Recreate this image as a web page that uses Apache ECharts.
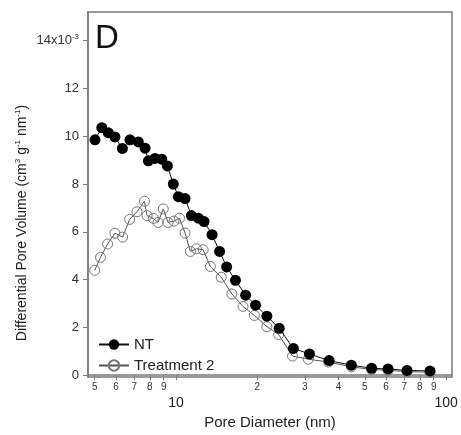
<!DOCTYPE html>
<html><head><meta charset="utf-8">
<script src="https://cdn.jsdelivr.net/npm/echarts@6/dist/echarts.min.js"></script>
<style>html,body{margin:0;padding:0;background:#fff}#c{width:461px;height:435px}</style>
</head><body><div id="c"></div>
<script>
// Pore diameters (nm) and differential pore volume (x10^-3 cm3 g-1 nm-1)
const ntDiameter = [5.01,5.31,5.61,5.94,6.33,6.75,7.25,7.68,7.90,8.36,8.85,9.29,9.77,10.2,10.8,11.4,12.1,12.7,13.6,14.5,15.4,16.6,18.1,19.7,21.7,24.1,27.2,31.2,36.9,44.6,53.0,61.0,71.7,87.2];
const ntVolume   = [9.85,10.36,10.15,9.97,9.49,9.85,9.76,9.5,8.97,9.07,9.04,8.76,8.0,7.47,7.39,6.68,6.57,6.43,5.88,5.18,4.53,3.97,3.35,2.93,2.47,1.96,1.12,0.89,0.61,0.42,0.29,0.26,0.2,0.18];
const t2Diameter = [5.0,5.25,5.58,5.94,6.34,6.73,7.17,7.64,7.81,8.24,8.58,8.97,9.34,9.83,10.3,10.8,11.3,11.9,12.6,13.4,14.7,16.1,17.7,19.5,21.7,24.0,27.0,30.9,36.7,44.6,53.0,61.0,71.7,87.2];
const t2Volume   = [4.39,4.93,5.49,5.94,5.78,6.52,6.84,7.28,6.68,6.56,6.39,6.96,6.39,6.45,6.57,5.95,5.18,5.29,5.25,4.55,4.1,3.4,2.88,2.5,2.03,1.7,0.8,0.67,0.55,0.35,0.24,0.2,0.15,0.12];
const xTickValues = [5,6,7,8,9,10,20,30,40,50,60,70,80,90,100];
const yTickValues = [0,2,4,6,8,10,12,14];
const seriesNames = ['NT','Treatment 2'];

const lg = v => Math.log10(v);
const pairs = (xs, ys) => xs.map((x, i) => [lg(x), ys[i]]);
const FONT = 'Liberation Sans, Arial, sans-serif';
const AX = '#7a7a7a';

const chart = echarts.init(document.getElementById('c'), null, {renderer: 'canvas'});
chart.setOption({
  animation: false,
  backgroundColor: '#fff',
  textStyle: {fontFamily: FONT},
  title: {text: 'D', left: 90, top: 17, textStyle: {fontSize: 33, fontWeight: 'normal', color: '#111', fontFamily: FONT}},
  grid: {left: 88, right: 9, top: 12, bottom: 56, show: true, borderColor: AX, borderWidth: 1.5, backgroundColor: 'transparent'},
  legend: {
    orient: 'vertical', left: 93, top: 332, itemWidth: 30, itemHeight: 13, itemGap: 6,
    textStyle: {fontSize: 15, color: '#222', fontFamily: FONT},
    data: seriesNames
  },
  xAxis: {
    type: 'value', min: 0.674, max: 2.022,
    name: 'Pore Diameter (nm)', nameLocation: 'middle', nameGap: 34,
    nameTextStyle: {fontSize: 15, color: '#222', fontFamily: FONT},
    axisLine: {show: true, lineStyle: {color: AX, width: 1.5}},
    axisTick: {show: true, length: 5, customValues: xTickValues.map(lg), lineStyle: {color: AX, width: 1}},
    axisLabel: {
      customValues: xTickValues.map(lg), margin: 5, fontSize: 10, color: '#333', fontFamily: FONT,
      formatter: v => {
        const n = Math.round(Math.pow(10, v));
        if (n === 10 || n === 100) return '{b|' + n + '}';
        return String(n >= 10 ? n / 10 : n);
      },
      rich: {b: {fontSize: 14, color: '#222', padding: [14, 0, 0, 0], fontFamily: FONT}}
    },
    splitLine: {show: false}
  },
  yAxis: {
    type: 'value', min: -0.08, max: 15.2,
    axisLine: {show: true, lineStyle: {color: AX, width: 1.5}},
    axisTick: {show: true, length: 5, customValues: yTickValues, lineStyle: {color: AX, width: 1}},
    axisLabel: {
      customValues: yTickValues, margin: 9, fontSize: 13, color: '#333', fontFamily: FONT,
      formatter: v => v === 14 ? '14x10{s|-3}' : String(v),
      rich: {s: {fontSize: 8, color: '#333', padding: [0, 0, 8, 0], fontFamily: FONT}}
    },
    splitLine: {show: false}
  },
  graphic: [{
    type: 'text', x: 22, y: 223, rotation: Math.PI / 2,
    style: {
      text: 'Differential Pore Volume (cm{s|3} g{s|-1} nm{s|-1})',
      fontSize: 14, fill: '#222', fontFamily: FONT, align: 'center', verticalAlign: 'middle',
      rich: {s: {fontSize: 8, fill: '#222', padding: [0, 0, 8, 0], fontFamily: FONT}}
    }
  }],
  series: [
    {
      name: seriesNames[1], type: 'line', data: pairs(t2Diameter, t2Volume),
      symbol: 'circle', symbolSize: 10, z: 2,
      lineStyle: {color: '#555', width: 1},
      itemStyle: {color: 'rgba(255,255,255,0)', borderColor: '#777', borderWidth: 1}
    },
    {
      name: seriesNames[0], type: 'line', data: pairs(ntDiameter, ntVolume),
      symbol: 'circle', symbolSize: 11, z: 3,
      lineStyle: {color: '#111', width: 1},
      itemStyle: {color: '#000', borderColor: '#000', borderWidth: 0}
    }
  ]
});
</script></body></html>
